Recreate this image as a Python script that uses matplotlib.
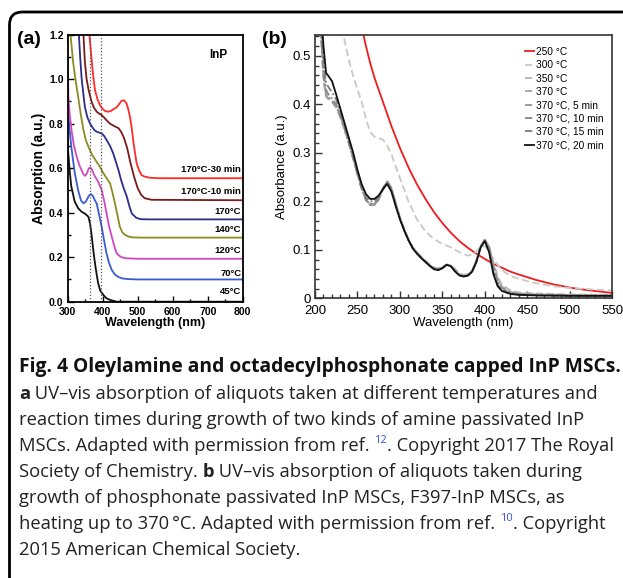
import matplotlib.pyplot as plt
from matplotlib.patches import FancyBboxPatch
from matplotlib.transforms import IdentityTransform
from matplotlib.ticker import MultipleLocator

# ---------- panel (a) data: UV-vis, amine passivated InP ----------
a_labels = ["45°C", "70°C", "120°C", "140°C", "170°C", "170°C-10 min", "170°C-30 min"]
a_colors = ["#111111", "#3a5bd0", "#d048c0", "#8c8c22", "#2c2c8c", "#7a1a1a", "#ff2a2a"]
a_label_y = [0.045, 0.128, 0.232, 0.325, 0.407, 0.494, 0.592]

wl_45 = [300, 305, 310, 320, 330, 340, 350, 359, 364, 369, 374, 378, 383, 387, 393, 402, 410, 421, 440, 800]
ab_45 = [0.70, 0.60, 0.52, 0.45, 0.42, 0.404, 0.395, 0.382, 0.35, 0.29, 0.22, 0.172, 0.12, 0.083, 0.05, 0.03, 0.016, 0.008, 0.0, 0.0]

wl_70 = [300, 305, 310, 320, 330, 338, 345, 352, 360, 366, 372, 378, 383, 390, 397, 404, 411, 418, 426, 435, 445, 455, 469, 500, 800]
ab_70 = [0.88, 0.78, 0.70, 0.58, 0.50, 0.455, 0.442, 0.45, 0.475, 0.484, 0.475, 0.455, 0.44, 0.39, 0.337, 0.275, 0.217, 0.175, 0.142, 0.122, 0.111, 0.105, 0.102, 0.10, 0.10]

wl_120 = [300, 302, 306, 311, 318, 326, 333, 340, 345, 350, 355, 360, 364, 369, 374, 379, 385, 391, 397, 404, 411, 418, 426, 433, 440, 450, 460, 469, 500, 800]
ab_120 = [1.10, 0.92, 0.84, 0.77, 0.70, 0.65, 0.615, 0.59, 0.572, 0.566, 0.578, 0.598, 0.604, 0.595, 0.575, 0.56, 0.545, 0.525, 0.502, 0.455, 0.397, 0.34, 0.292, 0.25, 0.217, 0.203, 0.197, 0.195, 0.193, 0.193]

wl_140 = [308, 316, 323, 330, 337, 345, 352, 359, 366, 373, 382, 392, 402, 411, 421, 428, 435, 442, 449, 456, 464, 475, 487, 510, 800]
ab_140 = [1.20, 1.07, 0.99, 0.92, 0.845, 0.772, 0.725, 0.697, 0.672, 0.652, 0.63, 0.607, 0.577, 0.556, 0.532, 0.49, 0.442, 0.39, 0.337, 0.312, 0.30, 0.292, 0.289, 0.288, 0.288]

wl_170 = [332, 336, 340, 345, 349, 356, 364, 370, 377, 383, 390, 397, 404, 411, 421, 430, 437, 445, 452, 460, 469, 476, 483, 495, 507, 530, 800]
ab_170 = [1.20, 1.09, 1.00, 0.93, 0.876, 0.83, 0.80, 0.785, 0.77, 0.764, 0.76, 0.757, 0.745, 0.727, 0.70, 0.667, 0.632, 0.592, 0.55, 0.51, 0.472, 0.43, 0.397, 0.378, 0.371, 0.37, 0.37]

wl_170_10 = [345, 349, 354, 360, 368, 375, 383, 390, 397, 405, 413, 421, 430, 437, 445, 452, 460, 470, 480, 490, 500, 510, 520, 540, 800]
ab_170_10 = [1.20, 1.08, 1.00, 0.95, 0.90, 0.872, 0.854, 0.845, 0.839, 0.826, 0.812, 0.80, 0.792, 0.786, 0.78, 0.765, 0.74, 0.69, 0.62, 0.56, 0.51, 0.48, 0.465, 0.458, 0.456]

wl_170_30 = [362, 366, 370, 374, 378, 385, 392, 400, 408, 416, 424, 432, 440, 447, 454, 461, 468, 473, 478, 483, 487, 492, 497, 504, 511, 520, 535, 560, 800]
ab_170_30 = [1.20, 1.13, 1.06, 1.00, 0.951, 0.91, 0.884, 0.866, 0.856, 0.854, 0.858, 0.866, 0.874, 0.888, 0.903, 0.905, 0.892, 0.865, 0.831, 0.78, 0.727, 0.672, 0.622, 0.59, 0.569, 0.562, 0.557, 0.555, 0.555]

a_wl = [wl_45, wl_70, wl_120, wl_140, wl_170, wl_170_10, wl_170_30]
a_ab = [ab_45, ab_70, ab_120, ab_140, ab_170, ab_170_10, ab_170_30]
a_marks = [364, 396]

# ---------- panel (b) data: phosphonate passivated InP ----------
wl_250 = [255, 260, 265, 270, 275, 280, 290, 300, 310, 320, 330, 340, 350, 360, 370, 380, 390, 400, 410, 420, 430, 440, 460, 480, 500, 520, 550]
ab_250 = [0.56, 0.52, 0.485, 0.455, 0.43, 0.405, 0.355, 0.31, 0.27, 0.235, 0.205, 0.178, 0.155, 0.135, 0.118, 0.104, 0.092, 0.081, 0.071, 0.063, 0.055, 0.049, 0.038, 0.029, 0.022, 0.017, 0.011]

wl_300 = [230, 235, 240, 245, 250, 255, 260, 265, 270, 275, 280, 285, 290, 295, 300, 310, 320, 330, 340, 350, 360, 370, 380, 385, 390, 395, 400, 405, 410, 420, 430, 440, 460, 480, 500, 550]
ab_300 = [0.58, 0.53, 0.49, 0.458, 0.43, 0.405, 0.37, 0.343, 0.333, 0.33, 0.327, 0.315, 0.297, 0.272, 0.248, 0.2, 0.163, 0.138, 0.122, 0.112, 0.105, 0.095, 0.088, 0.09, 0.097, 0.106, 0.108, 0.095, 0.08, 0.058, 0.046, 0.04, 0.031, 0.025, 0.021, 0.016]

wl_b = [205, 210, 213, 216, 220, 225, 230, 235, 240, 245, 250, 255, 260, 265, 270, 275, 280, 285, 290, 295,
        300, 305, 310, 315, 320, 325, 330, 335, 340, 345, 350, 355, 360, 365, 370, 375, 380, 385, 390, 395,
        400, 405, 410, 415, 420, 430, 440, 460, 500, 550]
ab_350 = [0.60, 0.45, 0.415, 0.41, 0.405, 0.395, 0.375, 0.35, 0.32, 0.29, 0.258, 0.228, 0.205, 0.195, 0.195, 0.205, 0.225, 0.24, 0.225, 0.195,
          0.165, 0.142, 0.122, 0.106, 0.095, 0.086, 0.078, 0.07, 0.064, 0.062, 0.064, 0.07, 0.068, 0.06, 0.052, 0.048, 0.05, 0.058, 0.078, 0.105,
          0.12, 0.108, 0.075, 0.045, 0.028, 0.016, 0.012, 0.01, 0.008, 0.007]
ab_370 = [0.60, 0.455, 0.42, 0.412, 0.405, 0.393, 0.372, 0.347, 0.318, 0.288, 0.256, 0.226, 0.203, 0.192, 0.192, 0.203, 0.224, 0.24, 0.226, 0.196,
          0.166, 0.142, 0.121, 0.105, 0.094, 0.085, 0.076, 0.068, 0.062, 0.06, 0.063, 0.069, 0.067, 0.058, 0.05, 0.046, 0.048, 0.056, 0.077, 0.106,
          0.121, 0.106, 0.07, 0.04, 0.024, 0.013, 0.01, 0.008, 0.007, 0.006]
ab_5min = [0.61, 0.46, 0.42, 0.414, 0.408, 0.396, 0.374, 0.348, 0.318, 0.287, 0.255, 0.225, 0.202, 0.192, 0.193, 0.204, 0.225, 0.242, 0.228, 0.197,
           0.166, 0.142, 0.121, 0.105, 0.094, 0.084, 0.075, 0.067, 0.061, 0.06, 0.063, 0.07, 0.067, 0.057, 0.049, 0.045, 0.047, 0.056, 0.078, 0.108,
           0.122, 0.104, 0.065, 0.036, 0.021, 0.012, 0.009, 0.007, 0.006, 0.006]
ab_10min = [0.61, 0.47, 0.43, 0.42, 0.412, 0.4, 0.377, 0.35, 0.32, 0.289, 0.256, 0.226, 0.203, 0.194, 0.195, 0.206, 0.226, 0.241, 0.226, 0.195,
            0.165, 0.141, 0.12, 0.104, 0.093, 0.084, 0.075, 0.067, 0.061, 0.059, 0.063, 0.069, 0.066, 0.056, 0.048, 0.045, 0.047, 0.055, 0.077, 0.107,
            0.12, 0.1, 0.06, 0.032, 0.019, 0.011, 0.008, 0.007, 0.006, 0.005]
ab_15min = [0.62, 0.49, 0.445, 0.435, 0.425, 0.41, 0.383, 0.355, 0.325, 0.294, 0.26, 0.23, 0.208, 0.2, 0.2, 0.21, 0.228, 0.238, 0.222, 0.192,
            0.164, 0.14, 0.12, 0.104, 0.093, 0.084, 0.076, 0.068, 0.061, 0.059, 0.063, 0.069, 0.066, 0.056, 0.048, 0.045, 0.047, 0.055, 0.076, 0.106,
            0.119, 0.097, 0.055, 0.029, 0.017, 0.01, 0.008, 0.006, 0.005, 0.005]
ab_20min = [0.64, 0.52, 0.465, 0.458, 0.448, 0.42, 0.39, 0.36, 0.33, 0.30, 0.265, 0.235, 0.215, 0.205, 0.205, 0.212, 0.225, 0.236, 0.22, 0.19,
            0.163, 0.14, 0.12, 0.103, 0.092, 0.083, 0.075, 0.067, 0.06, 0.058, 0.062, 0.069, 0.066, 0.055, 0.047, 0.045, 0.047, 0.055, 0.075, 0.105,
            0.118, 0.095, 0.05, 0.025, 0.015, 0.009, 0.007, 0.006, 0.005, 0.005]

b_labels = ["250 °C", "300 °C", "350 °C", "370 °C", "370 °C, 5 min", "370 °C, 10 min", "370 °C, 15 min", "370 °C, 20 min"]
b_wl = [wl_250, wl_300, wl_b, wl_b, wl_b, wl_b, wl_b, wl_b]
b_ab = [ab_250, ab_300, ab_350, ab_370, ab_5min, ab_10min, ab_15min, ab_20min]
b_colors = ["#ee1c1c", "#c8c8c8", "#b4b4b4", "#a2a2a2", "#959595", "#888888", "#7a7a7a", "#111111"]
b_styles = ["-", (0, (4, 2)), (0, (4, 2)), (0, (4, 2)), (0, (4, 1.5, 1, 1.5)), (0, (4, 1.5, 1, 1.5)), (0, (4, 1.5, 1, 1.5)), "-"]

caption_title = "Fig. 4 Oleylamine and octadecylphosphonate capped InP MSCs."

W, H = 623, 578
fig = plt.figure(figsize=(W / 100, H / 100), dpi=100)


def fx(px):
    return px / W


def fy(py):
    return 1 - py / H


# rounded frame round the whole figure (only left and top edges are inside)
frame = FancyBboxPatch((9.5, -60), 800, 566 + 60, boxstyle="round,pad=0,rounding_size=13",
                       transform=IdentityTransform(), fill=False, lw=2.0, ec="black")
fig.add_artist(frame)

# ---------------- panel (a) ----------------
bold = dict(family="Liberation Sans", weight="bold")
ax = fig.add_axes([fx(67.7), fy(301.7), 175 / W, 267 / H])
for xs, ys, c in zip(a_wl, a_ab, a_colors):
    ax.plot(xs, ys, color=c, lw=1.3)
for m in a_marks:
    ax.axvline(m, color="#555555", ls=(0, (1, 1.6)), lw=0.9)
for lab, y in zip(a_labels, a_label_y):
    ax.text(796, y, lab, ha="right", va="center", fontsize=6.8, **bold)
ax.text(730, 1.108, "InP", ha="center", va="center", fontsize=8.5, **bold)
ax.set_xlim(300, 800)
ax.set_ylim(0, 1.2)
ax.xaxis.set_major_locator(MultipleLocator(100))
ax.xaxis.set_minor_locator(MultipleLocator(50))
ax.set_yticks([0, 0.2, 0.4, 0.6, 0.8, 1.0, 1.2])
ax.set_yticklabels(["0.0", "0.2", "0.4", "0.6", "0.8", "1.0", "1.2"])
ax.yaxis.set_minor_locator(MultipleLocator(0.1))
ax.tick_params(which="both", direction="in", width=1.0)
ax.tick_params(axis="x", pad=3.5)
ax.tick_params(axis="y", pad=3)
ax.tick_params(which="major", length=4)
ax.tick_params(which="minor", length=2.5)
for lab in ax.get_xticklabels() + ax.get_yticklabels():
    lab.set_fontproperties({"family": "Liberation Sans", "weight": "bold", "size": 7.5})
for s in ax.spines.values():
    s.set_linewidth(1.3)
ax.set_xlabel("Wavelength (nm)", fontsize=9, labelpad=0, **bold)
ax.set_ylabel("Absorption (a.u.)", fontsize=10, labelpad=2, **bold)
fig.text(fx(17), fy(40), "(a)", fontsize=14, ha="left", va="center", **bold)

# ---------------- panel (b) ----------------
reg = dict(family="Liberation Sans")
bx = fig.add_axes([fx(315), fy(298.3), 297.3 / W, 263.3 / H])
for xs, ys, c, st, lab in zip(b_wl, b_ab, b_colors, b_styles, b_labels):
    bx.plot(xs, ys, color=c, ls=st, lw=1.3, label=lab)
bx.set_xlim(200, 550)
bx.set_ylim(0, 0.543)
bx.xaxis.set_major_locator(MultipleLocator(50))
bx.xaxis.set_minor_locator(MultipleLocator(10))
bx.set_yticks([0, 0.1, 0.2, 0.3, 0.4, 0.5])
bx.set_yticklabels(["0", "0.1", "0.2", "0.3", "0.4", "0.5"])
bx.yaxis.set_minor_locator(MultipleLocator(0.02))
bx.tick_params(which="both", direction="in", width=1.0, color="#333333")
bx.tick_params(axis="x", pad=5)
bx.tick_params(axis="y", pad=3)
bx.tick_params(which="major", length=5)
bx.tick_params(which="minor", length=3)
for lab in bx.get_xticklabels() + bx.get_yticklabels():
    lab.set_fontproperties({"family": "Liberation Sans", "size": 9.5})
for s in bx.spines.values():
    s.set_linewidth(1.2)
    s.set_color("#333333")
bx.set_xlabel("Wavelength (nm)", fontsize=9.5, labelpad=0, **reg)
bx.set_ylabel("Absorbance (a.u.)", fontsize=9.5, labelpad=3, **reg)
leg = bx.legend(loc="upper left", bbox_to_anchor=(0.705, 0.955), frameon=False,
                prop={"family": "Liberation Sans", "size": 7.3}, handlelength=0.9,
                handletextpad=0.25, labelspacing=0.33, borderaxespad=0, borderpad=0)
fig.text(fx(262), fy(40), "(b)", fontsize=14, ha="left", va="center", **bold)

# ---------------- caption ----------------
renderer = fig.canvas.get_renderer()
cap = dict(family="Open Sans", fontsize=13.25, va="baseline", ha="left", color="#222222")


def put_runs(x_px, base_px, runs):
    x = x_px
    for txt, kw in runs:
        opts = dict(cap)
        opts.update(kw)
        rise = opts.pop("rise", 0)
        t = fig.text(fx(x), fy(base_px - rise), txt, **opts)
        x += t.get_window_extent(renderer=renderer).width


sup = dict(color="#3355dd", fontsize=8, rise=8)
fig.text(fx(19), fy(372), caption_title, family="Open Sans", weight="bold",
         fontsize=13.9, va="baseline", ha="left", color="#111111")
put_runs(19, 399, [("a", dict(weight="bold")),
                   (" UV–vis absorption of aliquots taken at different temperatures and", {})])
put_runs(19, 425, [("reaction times during growth of two kinds of amine passivated InP", {})])
put_runs(19, 451, [("MSCs. Adapted with permission from ref. ", {}), ("12", sup),
                   (". Copyright 2017 The Royal", {})])
put_runs(19, 477, [("Society of Chemistry. ", {}), ("b", dict(weight="bold")),
                   (" UV–vis absorption of aliquots taken during", {})])
put_runs(19, 503, [("growth of phosphonate passivated InP MSCs, F397-InP MSCs, as", {})])
put_runs(19, 529, [("heating up to 370\u2009°C. Adapted with permission from ref. ", {}), ("10", sup),
                   (". Copyright", {})])
put_runs(19, 555, [("2015 American Chemical Society.", {})])

fig.savefig("out.png", dpi=100)
